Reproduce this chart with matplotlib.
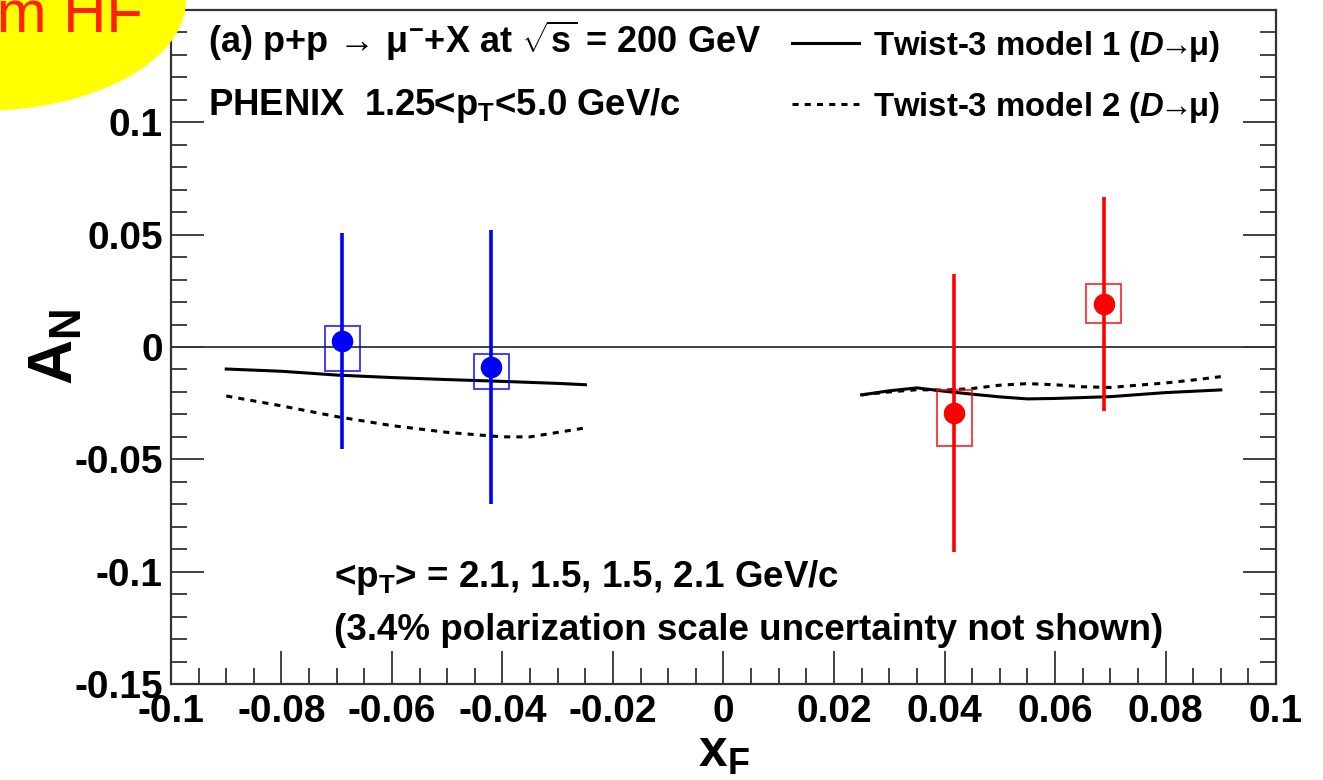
import matplotlib
matplotlib.use("Agg")
import matplotlib.pyplot as plt
from matplotlib.patches import Rectangle, Ellipse
from matplotlib.ticker import MultipleLocator, FuncFormatter

# ---------------- data ----------------
xf_neg = [-0.069, -0.042]
an_neg = [0.0027, -0.0089]
stat_neg = [0.048, 0.061]
sys_lo_neg = [0.0134, 0.0098]
sys_hi_neg = [0.0066, 0.0058]

xf_pos = [0.0418, 0.0688]
an_pos = [-0.0293, 0.0191]
stat_pos = [0.062, 0.0476]
sys_lo_pos = [0.0147, 0.0084]
sys_hi_pos = [0.0102, 0.0089]

m1_x_left = [-0.09, -0.08, -0.07, -0.06, -0.05, -0.04, -0.03, -0.025]
m1_y_left = [-0.0098, -0.0108, -0.0125, -0.0136, -0.0145, -0.0153, -0.0162, -0.0168]
m2_x_left = [-0.09, -0.08, -0.07, -0.06, -0.05, -0.045, -0.04, -0.035, -0.03, -0.025]
m2_y_left = [-0.0218, -0.0262, -0.031, -0.035, -0.038, -0.039, -0.040, -0.040, -0.038, -0.036]

m1_x_right = [0.025, 0.03, 0.035, 0.04, 0.045, 0.05, 0.055, 0.06, 0.07, 0.08, 0.09]
m1_y_right = [-0.0213, -0.0195, -0.0182, -0.0197, -0.021, -0.0222, -0.0231, -0.0229, -0.0221, -0.0203, -0.0191]
m2_x_right = [0.025, 0.03, 0.035, 0.04, 0.045, 0.05, 0.055, 0.06, 0.065, 0.07, 0.075, 0.08, 0.085, 0.09]
m2_y_right = [-0.0213, -0.0200, -0.0190, -0.0192, -0.0185, -0.0170, -0.0163, -0.0168, -0.0177, -0.0180, -0.0170, -0.0160, -0.0147, -0.0132]

label_m1 = r"Twist-3 model 1 ($\mathit{D}\!\!\rightarrow\!\!\mu$)"
label_m2 = r"Twist-3 model 2 ($\mathit{D}\!\!\rightarrow\!\!\mu$)"
title_txt = r"(a) p+p $\!\rightarrow\!$ $\mu^{-}$+X at $\sqrt{s}$ = 200 GeV"
sel_txt = r"PHENIX  1.25<$p_{T}$<5.0 GeV/c"
pt_txt = r"<$p_{T}$> = 2.1, 1.5, 1.5, 2.1 GeV/c"
pol_txt = "(3.4% polarization scale uncertainty not shown)"
banner_txt = "from HF"

# ---------------- style ----------------
plt.rcParams['font.family'] = ['Liberation Sans', 'DejaVu Sans']
plt.rcParams['font.weight'] = 'bold'
plt.rcParams['mathtext.fontset'] = 'custom'
plt.rcParams['mathtext.rm'] = 'Liberation Sans:bold'
plt.rcParams['mathtext.bf'] = 'Liberation Sans:bold'
plt.rcParams['mathtext.sf'] = 'Liberation Sans:bold'
plt.rcParams['mathtext.it'] = 'Liberation Sans:bold:italic'
plt.rcParams['mathtext.default'] = 'rm'

W, H = 1323, 780
fig = plt.figure(figsize=(W / 100, H / 100), dpi=100)
ax = fig.add_axes([171 / W, 1 - 684 / H, (1276 - 171) / W, (684 - 10) / H])

ax.set_xlim(-0.1, 0.1)
ax.set_ylim(-0.15, 0.15)
ax.axhline(0, color='#333333', lw=1.3, zorder=1)

blue = '#0000ff'
red = '#ff0000'
hw = 0.0032

for xs, ys, st, lo, hi, col in [(xf_neg, an_neg, stat_neg, sys_lo_neg, sys_hi_neg, blue),
                                 (xf_pos, an_pos, stat_pos, sys_lo_pos, sys_hi_pos, red)]:
    ax.errorbar(xs, ys, yerr=st, fmt='o', color=col, ms=14.5, elinewidth=2.6,
                capsize=0, zorder=4)
    for x, y, l, h in zip(xs, ys, lo, hi):
        ax.add_patch(Rectangle((x - hw, y - l), 2 * hw, l + h, fill=False,
                               edgecolor=col, lw=1.4, alpha=0.75, zorder=3))

l1, = ax.plot(m1_x_left, m1_y_left, color='black', lw=2.2, zorder=2)
ax.plot(m1_x_right, m1_y_right, color='black', lw=2.2, zorder=2)
l2, = ax.plot(m2_x_left, m2_y_left, color='black', lw=2.2, ls=(0, (2, 2)), zorder=2)
ax.plot(m2_x_right, m2_y_right, color='black', lw=2.2, ls=(0, (2, 2)), zorder=2)

leg = ax.legend([l1, l2], [label_m1, label_m2], loc='upper left',
                bbox_to_anchor=((792 - 171) / 1105, (684 - 29) / 674),
                frameon=False, fontsize=23.7, handlelength=2.05,
                handletextpad=0.42, borderpad=0, borderaxespad=0,
                labelspacing=0.78)

# ticks
ax.xaxis.set_major_locator(MultipleLocator(0.02))
ax.xaxis.set_minor_locator(MultipleLocator(0.005))
ax.yaxis.set_major_locator(MultipleLocator(0.05))
ax.yaxis.set_minor_locator(MultipleLocator(0.01))
fmt = FuncFormatter(lambda v, p: "0" if abs(v) < 1e-9 else f"{round(v, 3):g}")
ax.xaxis.set_major_formatter(fmt)
ax.yaxis.set_major_formatter(fmt)
ax.tick_params(which='both', direction='in', top=False, right=True,
               color='#333333', width=1.3, labelsize=28)
ax.tick_params(which='major', length=23.5)
ax.tick_params(which='minor', length=11.5)
ax.tick_params(axis='x', pad=7)
ax.tick_params(axis='y', pad=6)
for s in ax.spines.values():
    s.set_linewidth(1.6)
    s.set_color('#333333')

ax.set_ylabel(r"$A_{N}$", fontsize=45)
ax.yaxis.set_label_coords(-0.078, 0.5)
ax.set_xlabel(r"$x_{F}$", fontsize=37)
ax.xaxis.set_label_coords(0.5, -0.066)

# texts
ax.text((208 - 171) / 1105, (684 - 53) / 674, title_txt, transform=ax.transAxes,
        fontsize=26, va='baseline', ha='left')
ax.text((208 - 171) / 1105, (684 - 115) / 674, sel_txt, transform=ax.transAxes,
        fontsize=26.3, va='baseline', ha='left')
ax.text((334 - 171) / 1105, (684 - 587) / 674, pt_txt, transform=ax.transAxes,
        fontsize=26.5, va='baseline', ha='left')
ax.text((334 - 171) / 1105, (684 - 640) / 674, pol_txt, transform=ax.transAxes,
        fontsize=26.5, va='baseline', ha='left')

# yellow banner (cropped)
ell = Ellipse((-20 / W, 1.0), 412 / W, 222 / H, transform=fig.transFigure,
              facecolor='#ffff00', edgecolor='none', zorder=10)
fig.add_artist(ell)
fig.text(143 / W, 1 - 31 / H, banner_txt, ha='right', va='baseline', fontsize=43,
         color='#ff2200', fontweight='normal', zorder=11)

fig.savefig("out.png", dpi=100)
